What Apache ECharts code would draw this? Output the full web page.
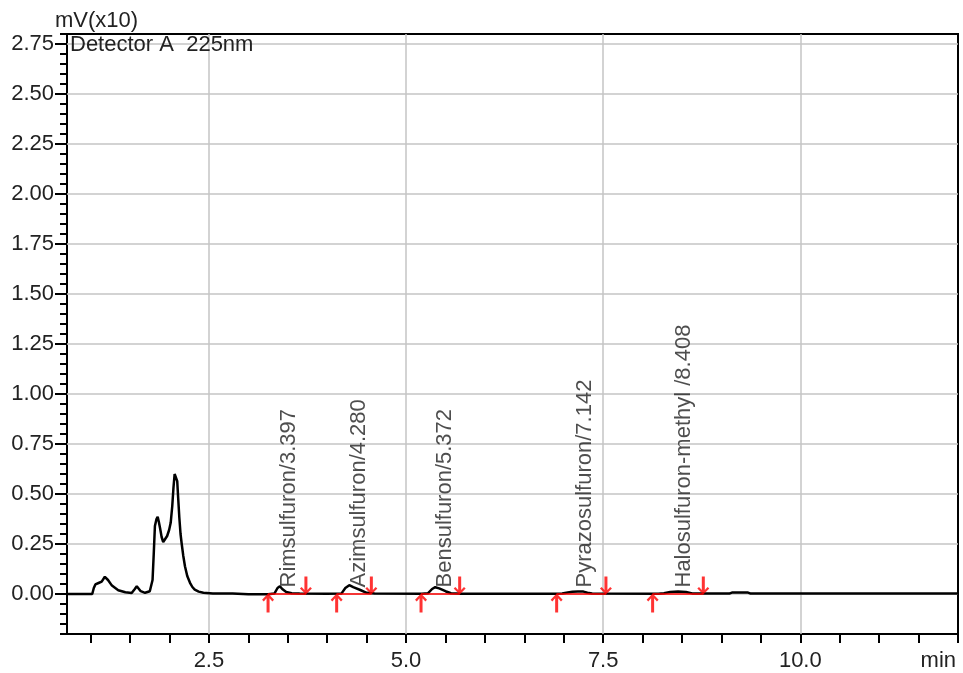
<!DOCTYPE html>
<html>
<head>
<meta charset="utf-8">
<script src="https://cdn.jsdelivr.net/npm/echarts@6/dist/echarts.min.js"></script>
<style>html,body{margin:0;padding:0;background:#fff;}#chart{width:963px;height:673px;}</style>
</head>
<body>
<div id="chart"></div>
<script>
// Chromatogram trace (retention time in min, signal in mV x10)
var traceTime = [0.70,1.02,1.04,1.06,1.10,1.14,1.18,1.22,1.27,1.35,1.44,1.52,1.56,1.585,1.61,1.635,1.69,1.75,1.785,1.80,1.815,1.835,1.85,1.865,1.88,1.90,1.92,1.945,1.97,1.995,2.015,2.035,2.05,2.065,2.073,2.085,2.098,2.11,2.125,2.14,2.155,2.175,2.196,2.225,2.26,2.29,2.32,2.37,2.43,2.55,2.80,3.00,3.25,3.33,3.37,3.40,3.43,3.48,3.55,3.65,4.00,4.18,4.23,4.28,4.33,4.42,4.50,4.60,5.20,5.28,5.33,5.37,5.42,5.50,5.57,5.70,6.90,6.98,7.05,7.11,7.18,7.25,7.30,7.36,8.20,8.27,8.35,8.45,8.55,8.63,8.75,9.10,9.14,9.33,9.37,12.0];
var traceValue = [0,0,0.03,0.048,0.055,0.062,0.086,0.07,0.042,0.019,0.009,0.005,0.025,0.039,0.03,0.014,0.006,0.014,0.07,0.2,0.34,0.375,0.386,0.36,0.33,0.285,0.26,0.265,0.29,0.32,0.356,0.44,0.53,0.6,0.609,0.59,0.564,0.48,0.38,0.3,0.25,0.19,0.139,0.09,0.056,0.035,0.022,0.012,0.006,0.003,0.002,-0.001,-0.001,0.002,0.03,0.039,0.025,0.01,0.004,0.002,0.001,0.002,0.03,0.044,0.034,0.02,0.006,0.002,0.001,0.004,0.025,0.034,0.028,0.014,0.004,0.001,0.001,0.003,0.008,0.011,0.012,0.012,0.006,0.002,0.001,0.004,0.01,0.012,0.01,0.003,0.002,0.002,0.008,0.008,0.002,0.002];

// Identified peaks
var peakNames = ["Rimsulfuron/3.397","Azimsulfuron/4.280","Bensulfuron/5.372","Pyrazosulfuron/7.142","Halosulfuron-methyl /8.408"];
var peakRT = [3.397,4.280,5.372,7.142,8.408];
var peakStart = [3.25,4.12,5.19,6.91,8.127];
var peakEnd = [3.73,4.56,5.68,7.535,8.77];

// Axis ticks
var xTickValues = [1.0,1.5,2.0,2.5,3.0,3.5,4.0,4.5,5.0,5.5,6.0,6.5,7.0,7.5,8.0,8.5,9.0,9.5,10.0,10.5,11.0,11.5,12.0];
var xLabelValues = [2.5,5.0,7.5,10.0];
var yLabelValues = [0,0.25,0.5,0.75,1.0,1.25,1.5,1.75,2.0,2.25,2.5,2.75];
var xGridValues = [2.5,5.0,7.5,10.0];
var yGridValues = [0,0.25,0.5,0.75,1.0,1.25,1.5,1.75,2.0,2.25,2.5,2.75];

var FONT = "'Liberation Sans', Arial, sans-serif";
var FS = 22;
var trace = traceTime.map(function (t, i) { return [t, traceValue[i]]; });
var labelData = peakRT.map(function (t, i) { return { value: [t, 0], name: peakNames[i] }; });
var upData = peakStart.map(function (t) { return [t, 0]; });
var downData = peakEnd.map(function (t) { return [t, 0]; });
var baseSegs = peakStart.map(function (s, i) { return [{ coord: [s, 0] }, { coord: [peakEnd[i], 0] }]; });
var gridLines = xGridValues.map(function (v) { return { xAxis: v }; })
  .concat(yGridValues.map(function (v) { return { yAxis: v }; }));

var UP = 'path://M6,0 L12,6.3 L10.3,7.9 L7.5,4.8 L7.5,19 L4.5,19 L4.5,4.8 L1.7,7.9 L0,6.3 Z';
var DOWN = 'path://M6,19 L12,12.7 L10.3,11.1 L7.5,14.2 L7.5,0 L4.5,0 L4.5,14.2 L1.7,11.1 L0,12.7 Z';

var chart = echarts.init(document.getElementById('chart'), null, { renderer: 'canvas' });
chart.setOption({
  animation: false,
  backgroundColor: '#fff',
  textStyle: { fontFamily: FONT },
  title: [
    { text: 'mV(x10)', left: 55, top: 10, padding: 0, textStyle: { fontFamily: FONT, fontSize: FS, fontWeight: 'normal', color: '#222' } },
    { text: 'Detector A  225nm', left: 70, top: 34, padding: 0, textStyle: { fontFamily: FONT, fontSize: FS, fontWeight: 'normal', color: '#222' } }
  ],
  grid: { left: 67, right: 5, top: 34, bottom: 39, show: true, borderColor: '#000', borderWidth: 2, backgroundColor: 'transparent' },
  xAxis: [{
    type: 'value', min: 0.7, max: 12, position: 'bottom',
    axisLine: { show: true, onZero: false, lineStyle: { color: '#000', width: 2 } },
    axisTick: { show: true, customValues: xTickValues, length: 9, lineStyle: { color: '#000', width: 2 } },
    axisLabel: { show: true, customValues: xLabelValues, margin: 16, fontSize: FS, color: '#222', fontFamily: FONT,
      formatter: function (v) { return v.toFixed(1); } },
    splitLine: { show: false },
    name: 'min', nameLocation: 'end', nameGap: -2,
    nameTextStyle: { fontSize: FS, color: '#222', fontFamily: FONT, align: 'right', verticalAlign: 'top', padding: [16, 0, 0, 0] }
  }],
  yAxis: [{
    type: 'value', min: -0.2, max: 2.8, position: 'left',
    axisLine: { show: true, onZero: false, lineStyle: { color: '#000', width: 2 } },
    axisTick: { show: true, customValues: yLabelValues, length: 12, lineStyle: { color: '#000', width: 2 } },
    axisLabel: { show: true, customValues: yLabelValues, margin: 13, fontSize: FS, color: '#222', fontFamily: FONT,
      formatter: function (v) { return v.toFixed(2); } },
    splitLine: { show: false }
  }, {
    type: 'value', min: -0.2, max: 2.8, interval: 0.05, position: 'left',
    axisLine: { show: false },
    axisTick: { show: true, length: 7, lineStyle: { color: '#000', width: 2 } },
    axisLabel: { show: false },
    splitLine: { show: false }
  }],
  series: [
    {
      type: 'line', name: 'grid', data: [], z: 1, silent: true,
      markLine: { silent: true, z: 1, symbol: ['none', 'none'], label: { show: false },
        lineStyle: { color: '#c4c4c4', width: 1.5, type: 'solid' }, data: gridLines, animation: false }
    },
    {
      type: 'line', name: 'Detector A 225nm', data: trace, z: 3,
      showSymbol: false, symbol: 'none', smooth: false,
      lineStyle: { color: '#000', width: 2.5 }
    },
    {
      type: 'scatter', name: 'start', data: upData, z: 5, symbol: UP, symbolSize: [12, 19], symbolOffset: [0, 9],
      itemStyle: { color: '#ff0000' }, silent: true,
      markLine: { silent: true, z: 4, symbol: ['none', 'none'], label: { show: false },
        lineStyle: { color: '#ff0000', width: 1.5, type: 'solid' }, data: baseSegs, animation: false }
    },
    {
      type: 'scatter', name: 'end', data: downData, z: 5, symbol: DOWN, symbolSize: [12, 18], symbolOffset: [0, -8.5],
      itemStyle: { color: '#ff0000' }, silent: true
    },
    {
      type: 'scatter', name: 'labels', data: labelData, z: 6, symbolSize: 1, silent: true,
      itemStyle: { color: 'rgba(0,0,0,0)' },
      label: { show: true, formatter: function (p) { return p.name; }, rotate: 90, position: [10, -6],
        align: 'left', verticalAlign: 'middle', fontSize: FS, color: '#222', fontFamily: FONT }
    }
  ]
});
</script>
</body>
</html>
